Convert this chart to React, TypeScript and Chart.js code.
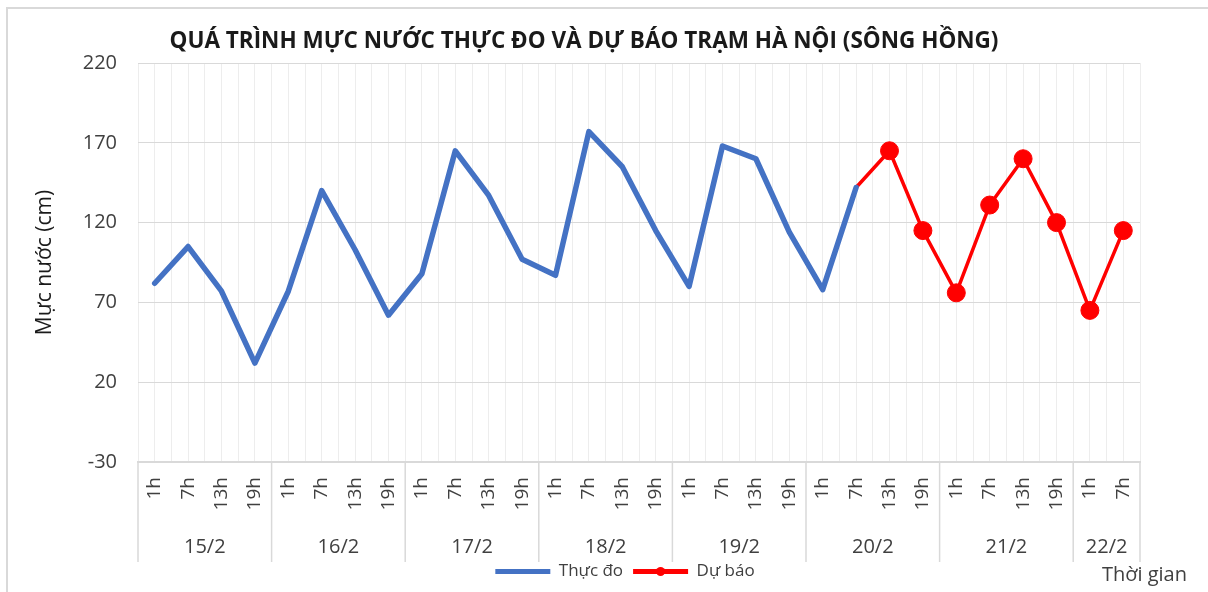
import React, { useEffect, useRef } from 'react';
import { Chart, registerables } from 'chart.js';

Chart.register(...registerables);

const hourLabels = [
  '1h', '7h', '13h', '19h',
  '1h', '7h', '13h', '19h',
  '1h', '7h', '13h', '19h',
  '1h', '7h', '13h', '19h',
  '1h', '7h', '13h', '19h',
  '1h', '7h', '13h', '19h',
  '1h', '7h', '13h', '19h',
  '1h', '7h',
];

const dayLabels = ['15/2', '16/2', '17/2', '18/2', '19/2', '20/2', '21/2', '22/2'];
const dayCounts = [4, 4, 4, 4, 4, 4, 4, 2];

const measured = [
  82, 105, 77, 32,
  77, 140, 103, 62,
  88, 165, 137, 97,
  87, 177, 155, 115,
  80, 168, 160, 114,
  78, 142, null, null,
  null, null, null, null,
  null, null,
];

const forecast = [
  null, null, null, null,
  null, null, null, null,
  null, null, null, null,
  null, null, null, null,
  null, null, null, null,
  null, 142, 165, 115,
  76, 131, 160, 120,
  65, 115,
];

const yMin = -30;
const yMax = 220;
const yStep = 50;

const titleText = 'QUÁ TRÌNH MỰC NƯỚC THỰC ĐO VÀ DỰ BÁO TRẠM HÀ NỘI (SÔNG HỒNG)';
const yTitle = 'Mực nước (cm)';
const xTitle = 'Thời gian';
const seriesNames = ['Thực đo', 'Dự báo'];

const FONT = "'Open Sans', 'Liberation Sans', sans-serif";

const groupPlugin = {
  id: 'dayGroups',
  afterLayout(chart: any) {
    const lg = chart.legend;
    if (lg) {
      lg.left += 41;
      lg.right += 41;
    }
  },
  afterDraw(chart: any) {
    const ctx = chart.ctx;
    const x = chart.scales.x;
    const area = chart.chartArea;
    const half = (x.getPixelForValue(1) - x.getPixelForValue(0)) / 2;
    ctx.save();
    ctx.strokeStyle = '#d9d9d9';
    ctx.lineWidth = 1.5;
    ctx.fillStyle = '#404040';
    ctx.font = `20px ${FONT}`;
    ctx.textAlign = 'center';
    ctx.textBaseline = 'middle';
    let idx = 0;
    const drawSep = (px: number) => {
      ctx.beginPath();
      ctx.moveTo(px, area.bottom);
      ctx.lineTo(px, area.bottom + 100);
      ctx.stroke();
    };
    dayLabels.forEach((d, g) => {
      const left = x.getPixelForValue(idx) - half;
      drawSep(left);
      const c = (x.getPixelForValue(idx) + x.getPixelForValue(idx + dayCounts[g] - 1)) / 2;
      ctx.fillText(d, c, area.bottom + 85);
      idx += dayCounts[g];
    });
    drawSep(x.getPixelForValue(idx - 1) + half);

    ctx.textAlign = 'right';
    ctx.fillText(xTitle, 1187, 575);

    const lg = chart.legend;
    if (lg && lg.legendHitBoxes && lg.legendHitBoxes[1]) {
      const hb = lg.legendHitBoxes[1];
      const bw = lg.options.labels.boxWidth;
      const cx = hb.left + bw / 2;
      const cy = hb.top + lg.options.labels.font.size / 2;
      ctx.fillStyle = '#ff0000';
      ctx.beginPath();
      ctx.arc(cx, cy, 4.5, 0, Math.PI * 2);
      ctx.fill();
    }
    ctx.restore();
  },
};

export default function App() {
  const ref = useRef<HTMLCanvasElement | null>(null);

  useEffect(() => {
    document.body.style.margin = '0';
    document.body.style.overflow = 'hidden';
    const canvas = ref.current;
    if (!canvas) return;
    const chart = new Chart(canvas, {
      type: 'line',
      data: {
        labels: hourLabels,
        datasets: [
          {
            label: seriesNames[0],
            data: measured,
            borderColor: '#4472c4',
            backgroundColor: '#4472c4',
            borderWidth: 5.5,
            pointRadius: 0,
            tension: 0,
            borderJoinStyle: 'round',
            borderCapStyle: 'round',
          },
          {
            label: seriesNames[1],
            data: forecast,
            borderColor: '#ff0000',
            backgroundColor: '#ff0000',
            borderWidth: 3.5,
            pointRadius: forecast.map((v, i) => (i === 21 ? 0 : 9)),
            pointBackgroundColor: '#ff0000',
            pointBorderColor: '#ff0000',
            pointBorderWidth: 1,
            tension: 0,
            borderJoinStyle: 'round',
          },
        ],
      },
      options: {
        responsive: false,
        animation: false,
        maintainAspectRatio: false,
        layout: { padding: { left: 28, right: 68, top: 0, bottom: 2 } },
        scales: {
          x: {
            type: 'category',
            offset: true,
            position: 'bottom',
            grid: { offset: true, color: '#ededed', lineWidth: 1, drawTicks: false },
            border: { display: true, color: '#d9d9d9', width: 2 },
            ticks: {
              autoSkip: false,
              maxRotation: 90,
              minRotation: 90,
              padding: 15,
              color: '#404040',
              font: { family: FONT, size: 19 },
            },
            afterFit: (s: any) => { s.height = 91; },
          },
          x2: {
            type: 'category',
            offset: true,
            position: 'bottom',
            grid: { offset: false, color: '#ededed', lineWidth: 1, drawTicks: false },
            border: { display: false },
            ticks: { display: false },
            afterFit: (s: any) => { s.height = 0; },
          },
          y: {
            min: yMin,
            max: yMax,
            ticks: {
              stepSize: yStep,
              padding: 21,
              color: '#404040',
              font: { family: FONT, size: 20 },
            },
            grid: { color: '#d9d9d9', lineWidth: 1, drawTicks: false },
            border: { display: false },
            title: {
              display: true,
              text: yTitle,
              color: '#1a1a1a',
              font: { family: FONT, size: 21 },
              padding: { top: 4, bottom: 4 },
            },
            afterFit: (s: any) => { s.width = 110; },
          },
        },
        plugins: {
          title: {
            display: true,
            text: titleText,
            color: '#1a1a1a',
            font: { family: FONT, size: 22.5, weight: 'bold' },
            padding: { top: 28.5, bottom: 7.5 },
          },
          legend: {
            display: true,
            position: 'bottom',
            labels: {
              boxWidth: 55,
              boxHeight: 5,
              padding: 10,
              color: '#404040',
              font: { family: FONT, size: 17 },
              generateLabels: (c: any) =>
                Chart.defaults.plugins.legend.labels.generateLabels(c).map((l: any) => ({ ...l, lineWidth: 0 })),
            },
          },
          tooltip: { enabled: false },
        },
      },
      plugins: [groupPlugin],
    });
    return () => chart.destroy();
  }, []);

  return (
    <div style={{ position: 'relative', width: 1208, height: 592, background: '#fff' }}>
      <canvas ref={ref} width={1208} height={592} style={{ display: 'block' }} />
      <div
        style={{
          position: 'absolute',
          left: 6,
          top: 7,
          right: -2,
          bottom: -2,
          borderTop: '2px solid #d9d9d9',
          borderLeft: '2px solid #d9d9d9',
          pointerEvents: 'none',
        }}
      />
    </div>
  );
}
